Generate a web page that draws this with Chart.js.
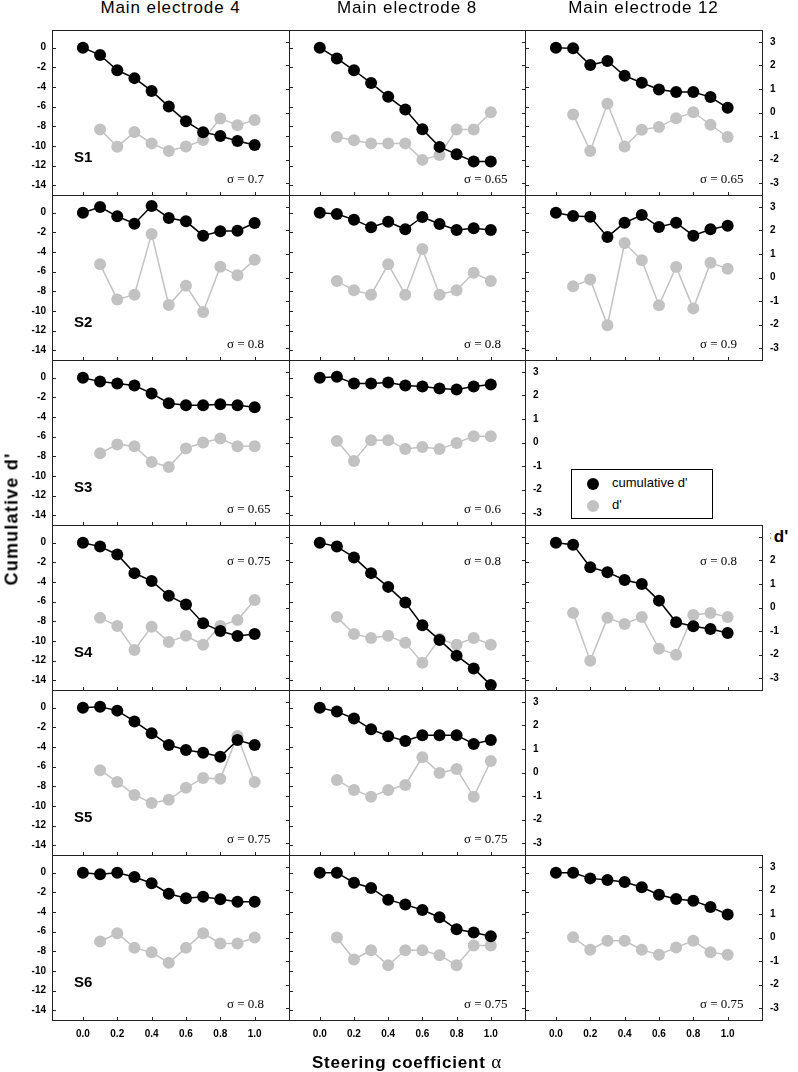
<!DOCTYPE html>
<html><head><meta charset="utf-8">
<script src="https://cdn.jsdelivr.net/npm/chart.js@4/dist/chart.umd.min.js"></script>
<style>
body{margin:0;background:#fff;width:798px;height:1072px;overflow:hidden;position:relative;font-family:"Liberation Sans",Arial,sans-serif;}
canvas{position:absolute;}
.t{position:absolute;white-space:nowrap;color:#000;}
</style></head><body>
<script>
// ---------- data ----------
const alphas = [0,0.1,0.2,0.3,0.4,0.5,0.6,0.7,0.8,0.9,1.0];
const dAlphas = [0.1,0.2,0.3,0.4,0.5,0.6,0.7,0.8,0.9,1.0];
const columnTitles = ['Main electrode 4','Main electrode 8','Main electrode 12'];
const subjects = ['S1','S2','S3','S4','S5','S6'];
const leftTicks = [-14,-12,-10,-8,-6,-4,-2,0];
const rightTicks = [-3,-2,-1,0,1,2,3];
const xTicks = [0,0.2,0.4,0.6,0.8,1.0];

const cumS1E4  = [0,-0.75,-2.3,-3.1,-4.4,-6.0,-7.5,-8.6,-9.0,-9.5,-9.9];
const dS1E4    = [-0.72,-1.45,-0.83,-1.31,-1.63,-1.44,-1.17,-0.25,-0.54,-0.32];
const cumS1E8  = [0,-1.1,-2.3,-3.6,-5.0,-6.3,-8.3,-10.1,-10.85,-11.6,-11.6];
const dS1E8    = [-1.04,-1.18,-1.31,-1.31,-1.31,-2.01,-1.8,-0.72,-0.72,0.01];
const cumS1E12 = [0,-0.07,-1.77,-1.36,-2.86,-3.57,-4.25,-4.52,-4.52,-5.03,-6.12];
const dS1E12   = [-0.08,-1.63,0.37,-1.44,-0.73,-0.62,-0.24,0.01,-0.52,-1.04];

const cumS2E4  = [0,0.58,-0.37,-1.12,0.68,-0.54,-0.88,-2.34,-1.9,-1.83,-1.05];
const dS2E4    = [0.56,-0.93,-0.73,1.85,-1.17,-0.35,-1.46,0.46,0.1,0.75];
const cumS2E8  = [0,-0.14,-0.71,-1.49,-0.92,-1.69,-0.44,-1.15,-1.76,-1.59,-1.76];
const dS2E8    = [-0.15,-0.54,-0.73,0.56,-0.73,1.21,-0.73,-0.54,0.2,-0.15];
const cumS2E12 = [0,-0.34,-0.41,-2.47,-1.02,-0.24,-1.46,-1.02,-2.34,-1.69,-1.32];
const dS2E12   = [-0.37,-0.08,-2.03,1.46,0.73,-1.18,0.45,-1.31,0.63,0.37];

const cumS3E4  = [0,-0.4,-0.6,-0.8,-1.6,-2.6,-2.8,-2.8,-2.7,-2.8,-3.0];
const dS3E4    = [-0.46,-0.08,-0.16,-0.83,-1.04,-0.25,0.0,0.17,-0.16,-0.16];
const cumS3E8  = [0,0.1,-0.6,-0.6,-0.5,-0.8,-0.9,-1.1,-1.2,-0.9,-0.7];
const dS3E8    = [0.06,-0.78,0.1,0.1,-0.28,-0.19,-0.28,-0.02,0.27,0.27];

const cumS4E4  = [0,-0.4,-1.2,-3.1,-3.9,-5.4,-6.3,-8.2,-9.0,-9.5,-9.3];
const dS4E4    = [-0.44,-0.78,-1.8,-0.82,-1.46,-1.2,-1.58,-0.78,-0.53,0.32];
const cumS4E8  = [0,-0.4,-1.5,-3.1,-4.5,-6.1,-8.4,-9.9,-11.5,-12.8,-14.5];
const dS4E8    = [-0.4,-1.12,-1.29,-1.2,-1.5,-2.34,-1.33,-1.58,-1.29,-1.58];
const cumS4E12 = [0,-0.2,-2.5,-3.0,-3.8,-4.2,-5.9,-8.1,-8.5,-8.8,-9.2];
const dS4E12   = [-0.23,-2.26,-0.44,-0.7,-0.4,-1.75,-2.0,-0.32,-0.23,-0.4];

const cumS5E4  = [0,0.1,-0.3,-1.4,-2.6,-3.8,-4.3,-4.6,-5.0,-3.3,-3.8];
const dS5E4    = [0.1,-0.4,-0.95,-1.29,-1.16,-0.65,-0.23,-0.27,1.55,-0.4];
const cumS5E8  = [0,-0.4,-1.1,-2.2,-2.9,-3.4,-2.8,-2.8,-2.8,-3.7,-3.3];
const dS5E8    = [-0.32,-0.74,-1.03,-0.74,-0.53,0.65,-0.02,0.15,-1.03,0.49];

const cumS6E4  = [0,-0.17,0,-0.44,-1.08,-2.14,-2.61,-2.44,-2.71,-2.95,-2.95];
const dS6E4    = [-0.17,0.18,-0.44,-0.63,-1.07,-0.44,0.18,-0.25,-0.25,0.0];
const cumS6E8  = [0,0,-1.02,-1.56,-2.75,-3.25,-3.8,-4.54,-5.76,-6.1,-6.47];
const dS6E8    = [0,-0.93,-0.54,-1.18,-0.54,-0.54,-0.75,-1.18,-0.34,-0.34];
const cumS6E12 = [0,0,-0.58,-0.75,-0.95,-1.49,-2.24,-2.68,-2.85,-3.49,-4.27];
const dS6E12   = [0.01,-0.52,-0.14,-0.14,-0.52,-0.73,-0.42,-0.14,-0.63,-0.73];

const sigmaS1 = ['0.7','0.65','0.65'];
const sigmaS2 = ['0.8','0.8','0.9'];
const sigmaS3 = ['0.65','0.6',null];
const sigmaS4 = ['0.75','0.8','0.8'];
const sigmaS5 = ['0.75','0.75',null];
const sigmaS6 = ['0.8','0.75','0.75'];

// ---------- layout ----------
const colX = [52,289,525,762];
const rowY = [30,195,360,525,690,855,1020];
const PADL=50, PADR=40, PADT=10, PADB=25;

const panels = [
  [ [cumS1E4,dS1E4,sigmaS1[0]], [cumS1E8,dS1E8,sigmaS1[1]], [cumS1E12,dS1E12,sigmaS1[2]] ],
  [ [cumS2E4,dS2E4,sigmaS2[0]], [cumS2E8,dS2E8,sigmaS2[1]], [cumS2E12,dS2E12,sigmaS2[2]] ],
  [ [cumS3E4,dS3E4,sigmaS3[0]], [cumS3E8,dS3E8,sigmaS3[1]], null ],
  [ [cumS4E4,dS4E4,sigmaS4[0]], [cumS4E8,dS4E8,sigmaS4[1]], [cumS4E12,dS4E12,sigmaS4[2]] ],
  [ [cumS5E4,dS5E4,sigmaS5[0]], [cumS5E8,dS5E8,sigmaS5[1]], null ],
  [ [cumS6E4,dS6E4,sigmaS6[0]], [cumS6E8,dS6E8,sigmaS6[1]], [cumS6E12,dS6E12,sigmaS6[2]] ],
];

const BLACK='#000', GRAY='#c2c2c2';

const panelPlugin = {
  id:'panelDecor',
  afterDraw(chart){
    const o = chart.options.plugins.panelDecor;
    const ctx = chart.ctx;
    const {left,right,top,bottom} = chart.chartArea;
    const xs = chart.scales.x, ys = chart.scales.y, y2 = chart.scales.y2;
    ctx.save();
    ctx.strokeStyle = '#222';
    ctx.lineWidth = 1;
    ctx.strokeRect(left+0.5, top+0.5, right-left, bottom-top);
    ctx.beginPath();
    leftTicks.forEach(v=>{const y=Math.round(ys.getPixelForValue(v))+0.5; ctx.moveTo(left,y); ctx.lineTo(left+4,y);});
    rightTicks.forEach(v=>{const y=Math.round(y2.getPixelForValue(v))+0.5; ctx.moveTo(right+1,y); ctx.lineTo(right-3,y);});
    xTicks.forEach(v=>{const x=Math.round(xs.getPixelForValue(v))+0.5; ctx.moveTo(x,bottom+1); ctx.lineTo(x,bottom-3);});
    ctx.stroke();
    ctx.fillStyle='#000';
    ctx.font = 'bold 10px "Liberation Sans", Arial, sans-serif';
    ctx.textBaseline='middle';
    if(o.showLeft){
      ctx.textAlign='right';
      leftTicks.forEach(v=>ctx.fillText(String(v), left-6, ys.getPixelForValue(v)));
    }
    if(o.showRight){
      ctx.textAlign='left';
      rightTicks.forEach(v=>ctx.fillText(String(v), right+8, y2.getPixelForValue(v)));
    }
    if(o.showX){
      ctx.textAlign='center';
      xTicks.forEach(v=>ctx.fillText(v.toFixed(1), xs.getPixelForValue(v), bottom+14));
    }
    if(o.subject){
      ctx.font='bold 15px "Liberation Sans", Arial, sans-serif';
      ctx.textAlign='left';
      ctx.fillText(o.subject, left+22, top+128);
    }
    if(o.sigma){
      ctx.font='13px "Liberation Serif", "Times New Roman", serif';
      ctx.textAlign='left';
      ctx.fillText('\u03C3 = '+o.sigma, left+175, o.sigmaTop ? top+37 : top+150);
    }
    ctx.restore();
  }
};

function addText(txt, x, y, css){
  const d=document.createElement('div');
  d.className='t'; d.textContent=txt;
  d.style.left=x+'px'; d.style.top=y+'px';
  d.style.cssText += css;
  document.body.appendChild(d);
  return d;
}

panels.forEach((row,r)=>{
  row.forEach((p,c)=>{
    if(!p) return;
    const [cum,d,sigma]=p;
    const w = colX[c+1]-colX[c], h = rowY[r+1]-rowY[r];
    const cv=document.createElement('canvas');
    cv.width = w+PADL+PADR; cv.height = h+PADT+PADB;
    cv.style.left=(colX[c]-PADL)+'px'; cv.style.top=(rowY[r]-PADT)+'px';
    cv.style.width=cv.width+'px'; cv.style.height=cv.height+'px';
    document.body.appendChild(cv);
    const showRight = (c===2) || (c===1 && !panels[r][2]);
    new Chart(cv.getContext('2d'),{
      type:'line',
      data:{datasets:[
        {label:"cumulative d'", data:alphas.map((a,i)=>({x:a,y:cum[i]})), yAxisID:'y',
         borderColor:BLACK, backgroundColor:BLACK, pointBackgroundColor:BLACK, pointBorderColor:BLACK,
         borderWidth:1.5, pointRadius:6, pointBorderWidth:0, tension:0, clip:false},
        {label:"d'", data:dAlphas.map((a,i)=>({x:a,y:d[i]})), yAxisID:'y2',
         borderColor:GRAY, backgroundColor:GRAY, pointBackgroundColor:GRAY, pointBorderColor:GRAY,
         borderWidth:1.5, pointRadius:6, pointBorderWidth:0, tension:0, clip:false}
      ]},
      options:{
        responsive:false, animation:false, devicePixelRatio:1,
        layout:{padding:{left:PADL,right:PADR,top:PADT,bottom:PADB}},
        scales:{
          x:{type:'linear', min:-0.18, max:1.2, display:false},
          y:{type:'linear', min:-15, max:1.8, display:false},
          y2:{type:'linear', min:-3.5, max:3.5, display:false, position:'right'}
        },
        plugins:{legend:{display:false}, tooltip:{enabled:false},
          panelDecor:{showLeft:c===0, showRight, showX:r===5, subject:c===0?subjects[r]:null,
                      sigma, sigmaTop:r===3}}
      },
      plugins:[panelPlugin]
    });
  });
});

// column titles
columnTitles.forEach((t,i)=>{
  const cx=(colX[i]+colX[i+1])/2;
  addText(t, cx, 8, 'transform:translate(-50%,-50%);font-size:17px;letter-spacing:0.9px;');
});
addText('Steering coefficient ', 407, 1062, 'transform:translate(-50%,-50%);font-size:17px;font-weight:bold;letter-spacing:0.8px;')
  .insertAdjacentHTML('beforeend','<span style="font-family:\'Liberation Serif\',serif;font-weight:normal;font-size:19px">\u03B1</span>');
addText("Cumulative d'", 12, 519, 'transform:translate(-50%,-50%) rotate(-90deg);font-size:18px;font-weight:bold;letter-spacing:1.2px;');
addText("d'", 781, 537, 'transform:translate(-50%,-50%);font-size:17px;font-weight:bold;background:#fff;padding:0 3px;');

// legend
const lg=document.createElement('div');
lg.style.cssText='position:absolute;left:571px;top:469px;width:140px;height:48px;border:1px solid #000;background:#fff;font-size:13px;';
lg.innerHTML =
 '<div style="position:absolute;left:15px;top:8px;width:12px;height:12px;border-radius:6px;background:'+BLACK+'"></div>'+
 '<div style="position:absolute;left:40px;top:5px;">cumulative d\'</div>'+
 '<div style="position:absolute;left:15px;top:30px;width:12px;height:12px;border-radius:6px;background:'+GRAY+'"></div>'+
 '<div style="position:absolute;left:40px;top:27px;">d\'</div>';
document.body.appendChild(lg);
</script>
</body></html>
